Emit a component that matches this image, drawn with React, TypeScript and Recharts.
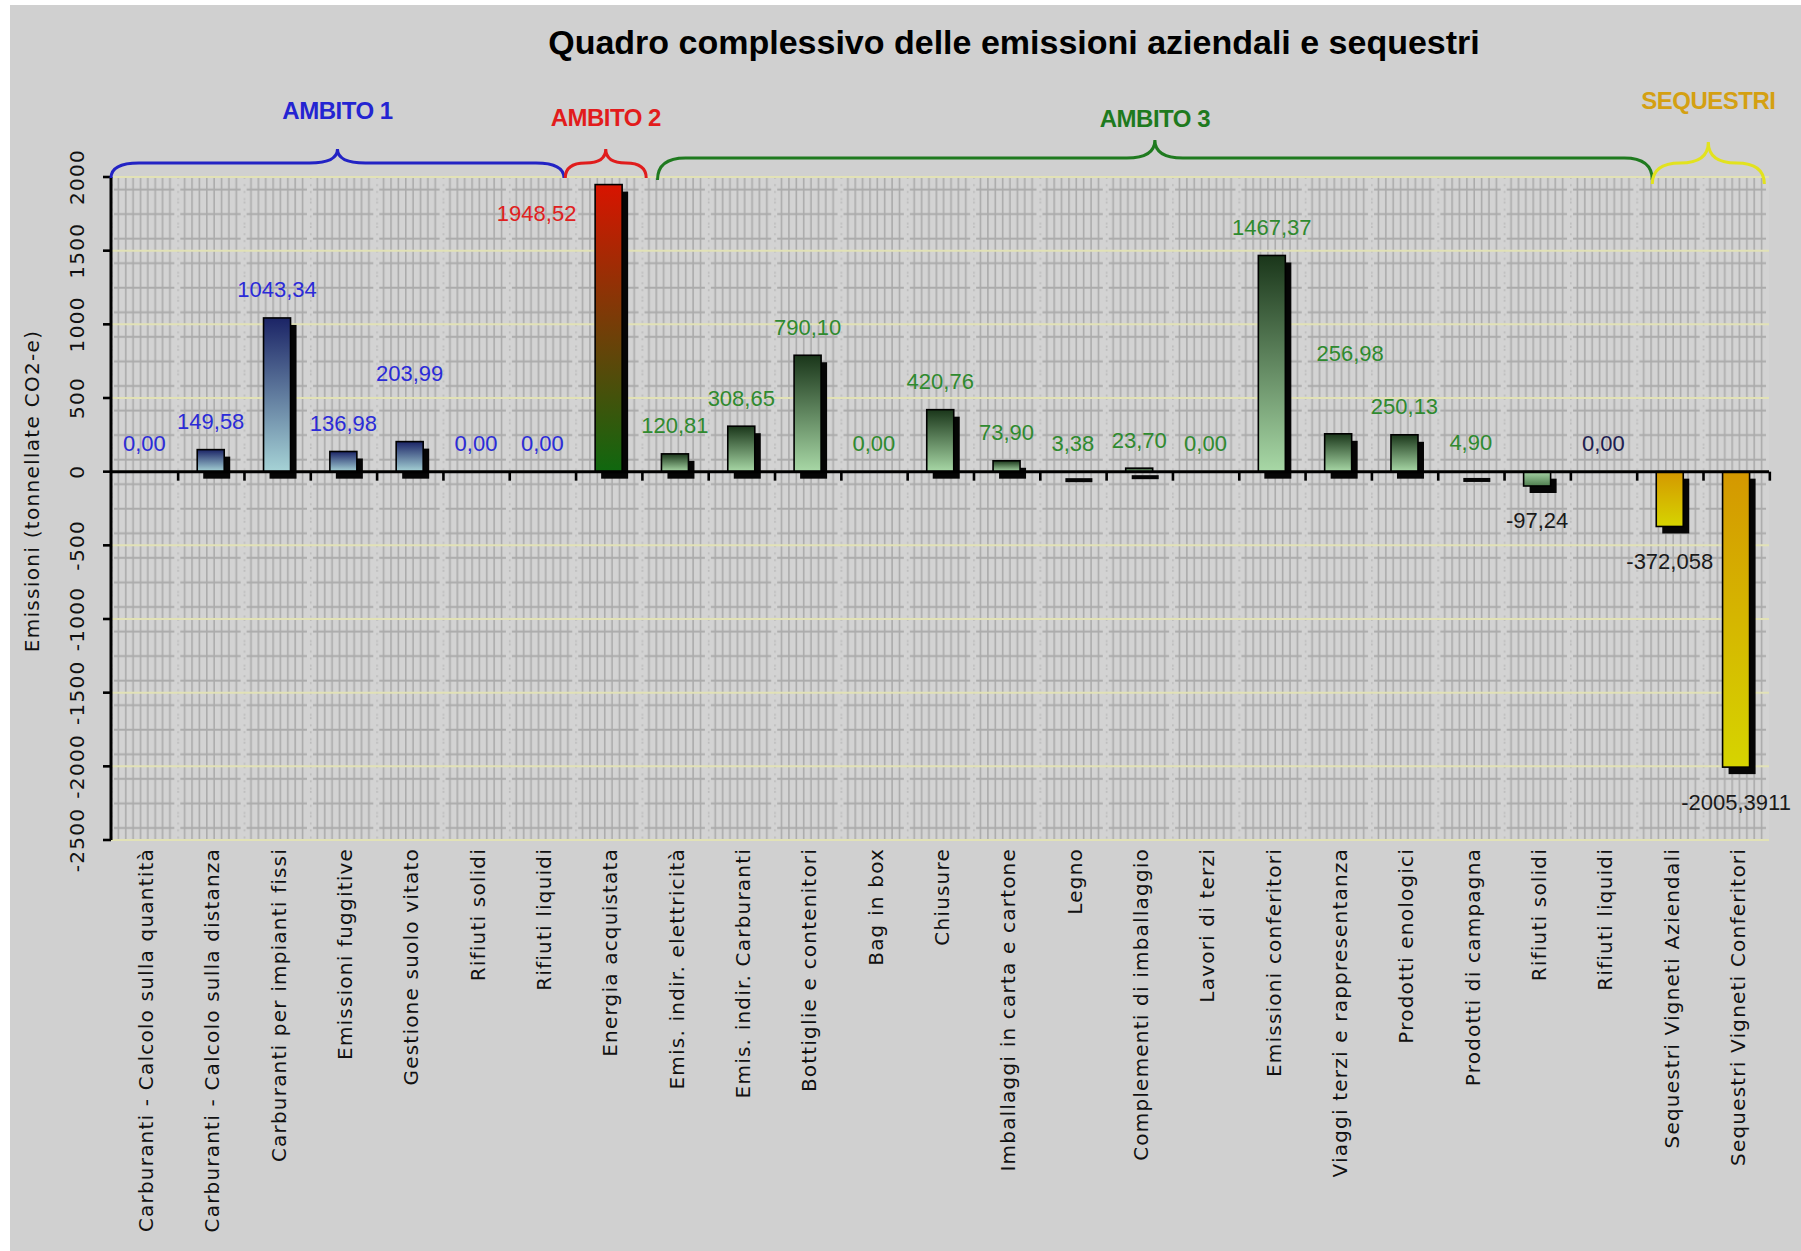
import { Bar, BarChart, CartesianGrid, LabelList, ReferenceLine, XAxis, YAxis } from 'recharts'

const categories = [
  'Carburanti - Calcolo sulla quantità',
  'Carburanti - Calcolo sulla distanza',
  'Carburanti per impianti fissi',
  'Emissioni fuggitive',
  'Gestione suolo vitato',
  'Rifiuti solidi',
  'Rifiuti liquidi',
  'Energia acquistata',
  'Emis. indir. elettricità',
  'Emis. indir. Carburanti',
  'Bottiglie e contenitori',
  'Bag in box',
  'Chiusure',
  'Imballaggi in carta e cartone',
  'Legno',
  'Complementi di imballaggio',
  'Lavori di terzi',
  'Emissioni conferitori',
  'Viaggi terzi e rappresentanza',
  'Prodotti enologici',
  'Prodotti di campagna',
  'Rifiuti solidi',
  'Rifiuti liquidi',
  'Sequestri Vigneti Aziendali',
  'Sequestri Vigneti Conferitori',
]

const emissions = [
  0, 149.58, 1043.34, 136.98, 203.99, 0, 0, 1948.52, 120.81, 308.65, 790.1, 0, 420.76, 73.9, 3.38,
  23.7, 0, 1467.37, 256.98, 250.13, 4.9, -97.24, 0, -372.058, -2005.3911,
]

// which "ambito" each category belongs to
const groupOf = [
  'A1', 'A1', 'A1', 'A1', 'A1', 'A1', 'A1',
  'A2',
  'A3', 'A3', 'A3', 'A3', 'A3', 'A3', 'A3', 'A3', 'A3', 'A3', 'A3', 'A3', 'A3', 'A3', 'A3',
  'SEQ', 'SEQ',
]

const yTicks = [-2500, -2000, -1500, -1000, -500, 0, 500, 1000, 1500, 2000]

const groups = [
  { label: 'AMBITO 1', color: '#2424d2', brace: '#2222c4', from: 0, to: 6.83, line: 163, tip: 149, end: 178, labelY: 110 },
  { label: 'AMBITO 2', color: '#e21c1c', brace: '#e01c1c', from: 6.85, to: 8.07, line: 163, tip: 149, end: 178, labelY: 117 },
  { label: 'AMBITO 3', color: '#1e7a1e', brace: '#1f7a1f', from: 8.24, to: 23.24, line: 158, tip: 140, end: 180, labelY: 118 },
  { label: 'SEQUESTRI', color: '#d4a012', brace: '#e2e21e', from: 23.24, to: 24.93, line: 163, tip: 142, end: 184, labelY: 100 },
]

const data = categories.map((name, i) => ({ key: String(i), name, value: emissions[i] }))

const W = 1801
const H = 1251
const plotLeft = 111
const plotRight = 1769
const plotTop = 177
const plotBottom = 840
const band = (plotRight - plotLeft) / categories.length
const tileH = (plotBottom - plotTop) / 27

const labelColor: Record<string, string> = { A1: '#2b2bd8', A2: '#e02020', A3: '#2f8a2f', SEQ: '#1a1a1a' }
const labelShift: Record<number, { dx: number; dy: number; color?: string }> = {
  4: { dx: 0, dy: -40 },
  7: { dx: -72, dy: 57 },
  18: { dx: 12, dy: -52 },
  22: { dx: 0, dy: 0, color: '#1c1c50' },
}

const fmt = (v: number) => {
  const [i, f = ''] = String(v).split('.')
  return `${i},${f.padEnd(2, '0')}`
}

const gradId = (i: number) => {
  const g = groupOf[i]
  if (g === 'A3' && emissions[i] < 0) return 'gA3neg'
  return 'g' + g
}

const BarShape = (props: any) => {
  const { x, y, width, height, index } = props
  const v = emissions[index]
  const top = Math.min(y, y + height)
  const bottom = Math.max(y, y + height)
  const h = bottom - top
  const zeroY = v < 0 ? top : bottom
  const bandW = width / 0.4
  const tickX = x + width / 2 + bandW / 2
  return (
    <g>
      {v !== 0 && <rect x={x + 6} y={top + 7} width={width} height={Math.max(h, 4)} fill="#050505" />}
      {h > 0.8 && (
        <rect x={x} y={top} width={width} height={h} fill={`url(#${gradId(index)})`} stroke="#000" strokeWidth={1.6} />
      )}
      <line x1={tickX} x2={tickX} y1={zeroY} y2={zeroY + 9} stroke="#000" strokeWidth={2.6} />
    </g>
  )
}

const renderLabel = (p: any) => {
  const vb = p.viewBox ?? p
  const i = p.index
  const v = emissions[i]
  const top = Math.min(vb.y, vb.y + vb.height)
  const bottom = Math.max(vb.y, vb.y + vb.height)
  const s = labelShift[i] ?? { dx: 0, dy: 0 }
  const cx = vb.x + vb.width / 2 + s.dx
  const cy = (v < 0 ? bottom + 35 : top - 28) + s.dy
  const color = s.color ?? (v < 0 ? '#1a1a1a' : labelColor[groupOf[i]])
  return (
    <text
      key={i}
      x={cx}
      y={cy}
      textAnchor="middle"
      dominantBaseline="central"
      fontFamily="'Liberation Sans', Arial, sans-serif"
      fontSize={22}
      fill={color}
    >
      {fmt(v)}
    </text>
  )
}

const XTick = ({ x, y, payload }: any) => (
  <text
    transform={`translate(${x + 2},${y}) rotate(-90)`}
    textAnchor="end"
    dominantBaseline="central"
    fontFamily="'DejaVu Sans', Verdana, sans-serif"
    fontSize={20}
    letterSpacing={1.2}
    fill="#111"
  >
    {categories[payload.index]}
  </text>
)

const YTick = ({ x, y, payload }: any) => (
  <text
    transform={`translate(${x - 24},${y}) rotate(-90)`}
    textAnchor="middle"
    dominantBaseline="central"
    fontFamily="'DejaVu Sans', Verdana, sans-serif"
    fontSize={20}
    letterSpacing={1.3}
    fill="#111"
  >
    {payload.value}
  </text>
)

const bracePath = (x0: number, x1: number, line: number, tip: number, end: number) => {
  const xm = (x0 + x1) / 2
  const r = Math.min(28, (x1 - x0) / 4)
  return [
    `M ${x0} ${end}`,
    `Q ${x0} ${line} ${x0 + r} ${line}`,
    `L ${xm - r} ${line}`,
    `Q ${xm} ${line} ${xm} ${tip}`,
    `Q ${xm} ${line} ${xm + r} ${line}`,
    `L ${x1 - r} ${line}`,
    `Q ${x1} ${line} ${x1} ${end}`,
  ].join(' ')
}

export default function App() {
  return (
    <div style={{ position: 'relative', width: W, height: H, background: '#fff', overflow: 'hidden' }}>
      <style>{'body{margin:0}'}</style>
      <div style={{ position: 'absolute', left: 10, top: 5, right: 0, bottom: 0, background: '#d0d0d0' }} />
      <div style={{ position: 'absolute', left: 0, top: 0 }}>
        <BarChart
          width={W}
          height={H}
          data={data}
          margin={{ top: plotTop, right: W - plotRight, bottom: 0, left: 0 }}
          barCategoryGap="30%"
        >
          <defs>
            <pattern id="gridPat" patternUnits="userSpaceOnUse" x={plotLeft} y={plotTop} width={band} height={tileH}>
              <rect width={band} height={tileH} fill="#d3d3d3" />
              {[1, 2, 3, 4, 5, 6, 7, 8].map((k) => (
                <line key={k} x1={(k * band) / 9} x2={(k * band) / 9} y1={0} y2={tileH} stroke="#ababab" strokeWidth={1.6} />
              ))}
              <line x1={3} x2={band - 3} y1={12.5} y2={12.5} stroke="#ababab" strokeWidth={2} />
              <line x1={0.8} x2={0.8} y1={0} y2={tileH} stroke="#bcbcbc" strokeWidth={1.6} strokeDasharray="2 5" />
            </pattern>
            <linearGradient id="gA1" x1="0" y1="0" x2="0" y2="1">
              <stop offset="0%" stopColor="#1b2466" />
              <stop offset="100%" stopColor="#a6d3d6" />
            </linearGradient>
            <linearGradient id="gA2" x1="0" y1="0" x2="0" y2="1">
              <stop offset="0%" stopColor="#d81400" />
              <stop offset="100%" stopColor="#0f680f" />
            </linearGradient>
            <linearGradient id="gA3" x1="0" y1="0" x2="0" y2="1">
              <stop offset="0%" stopColor="#1a361a" />
              <stop offset="100%" stopColor="#a8d8a6" />
            </linearGradient>
            <linearGradient id="gA3neg" x1="0" y1="0" x2="0" y2="1">
              <stop offset="0%" stopColor="#a6d2a6" />
              <stop offset="100%" stopColor="#4e7e4e" />
            </linearGradient>
            <linearGradient id="gSEQ" x1="0" y1="0" x2="0" y2="1">
              <stop offset="0%" stopColor="#d49800" />
              <stop offset="100%" stopColor="#d6d400" />
            </linearGradient>
          </defs>
          <CartesianGrid vertical={false} stroke="#e2e2b6" strokeWidth={2} fill="url(#gridPat)" fillOpacity={1} />
          <XAxis
            dataKey="key"
            interval={0}
            height={H - plotBottom}
            axisLine={false}
            tickLine={false}
            tickSize={0}
            tickMargin={8}
            tick={<XTick />}
          />
          <YAxis
            width={plotLeft}
            domain={[-2500, 2000]}
            ticks={yTicks}
            interval={0}
            axisLine={{ stroke: '#000', strokeWidth: 3 }}
            tickLine={{ stroke: '#000', strokeWidth: 2.6 }}
            tickSize={8}
            tick={<YTick />}
          />
          <ReferenceLine y={0} stroke="#000" strokeWidth={3} />
          <Bar dataKey="value" shape={<BarShape />} isAnimationActive={false}>
            <LabelList dataKey="value" content={renderLabel} />
          </Bar>
        </BarChart>
      </div>
      <svg width={W} height={H} style={{ position: 'absolute', left: 0, top: 0, pointerEvents: 'none' }}>
        <text
          x={1014}
          y={42}
          textAnchor="middle"
          dominantBaseline="central"
          fontFamily="'Liberation Sans', Arial, sans-serif"
          fontWeight="bold"
          fontSize={34}
          fill="#000"
        >
          Quadro complessivo delle emissioni aziendali e sequestri
        </text>
        <text
          transform="translate(32,491) rotate(-90)"
          textAnchor="middle"
          dominantBaseline="central"
          fontFamily="'DejaVu Sans', Verdana, sans-serif"
          fontSize={20}
          letterSpacing={1.3}
          fill="#111"
        >
          Emissioni (tonnellate CO2-e)
        </text>
        {groups.map((g) => {
          const x0 = plotLeft + g.from * band
          const x1 = plotLeft + g.to * band
          return (
            <g key={g.label}>
              <path d={bracePath(x0, x1, g.line, g.tip, g.end)} fill="none" stroke={g.brace} strokeWidth={3} />
              <text
                x={(x0 + x1) / 2}
                y={g.labelY}
                textAnchor="middle"
                dominantBaseline="central"
                fontFamily="'Liberation Sans', Arial, sans-serif"
                fontWeight="bold"
                fontSize={24}
                letterSpacing={-0.5}
                fill={g.color}
              >
                {g.label}
              </text>
            </g>
          )
        })}
      </svg>
    </div>
  )
}
